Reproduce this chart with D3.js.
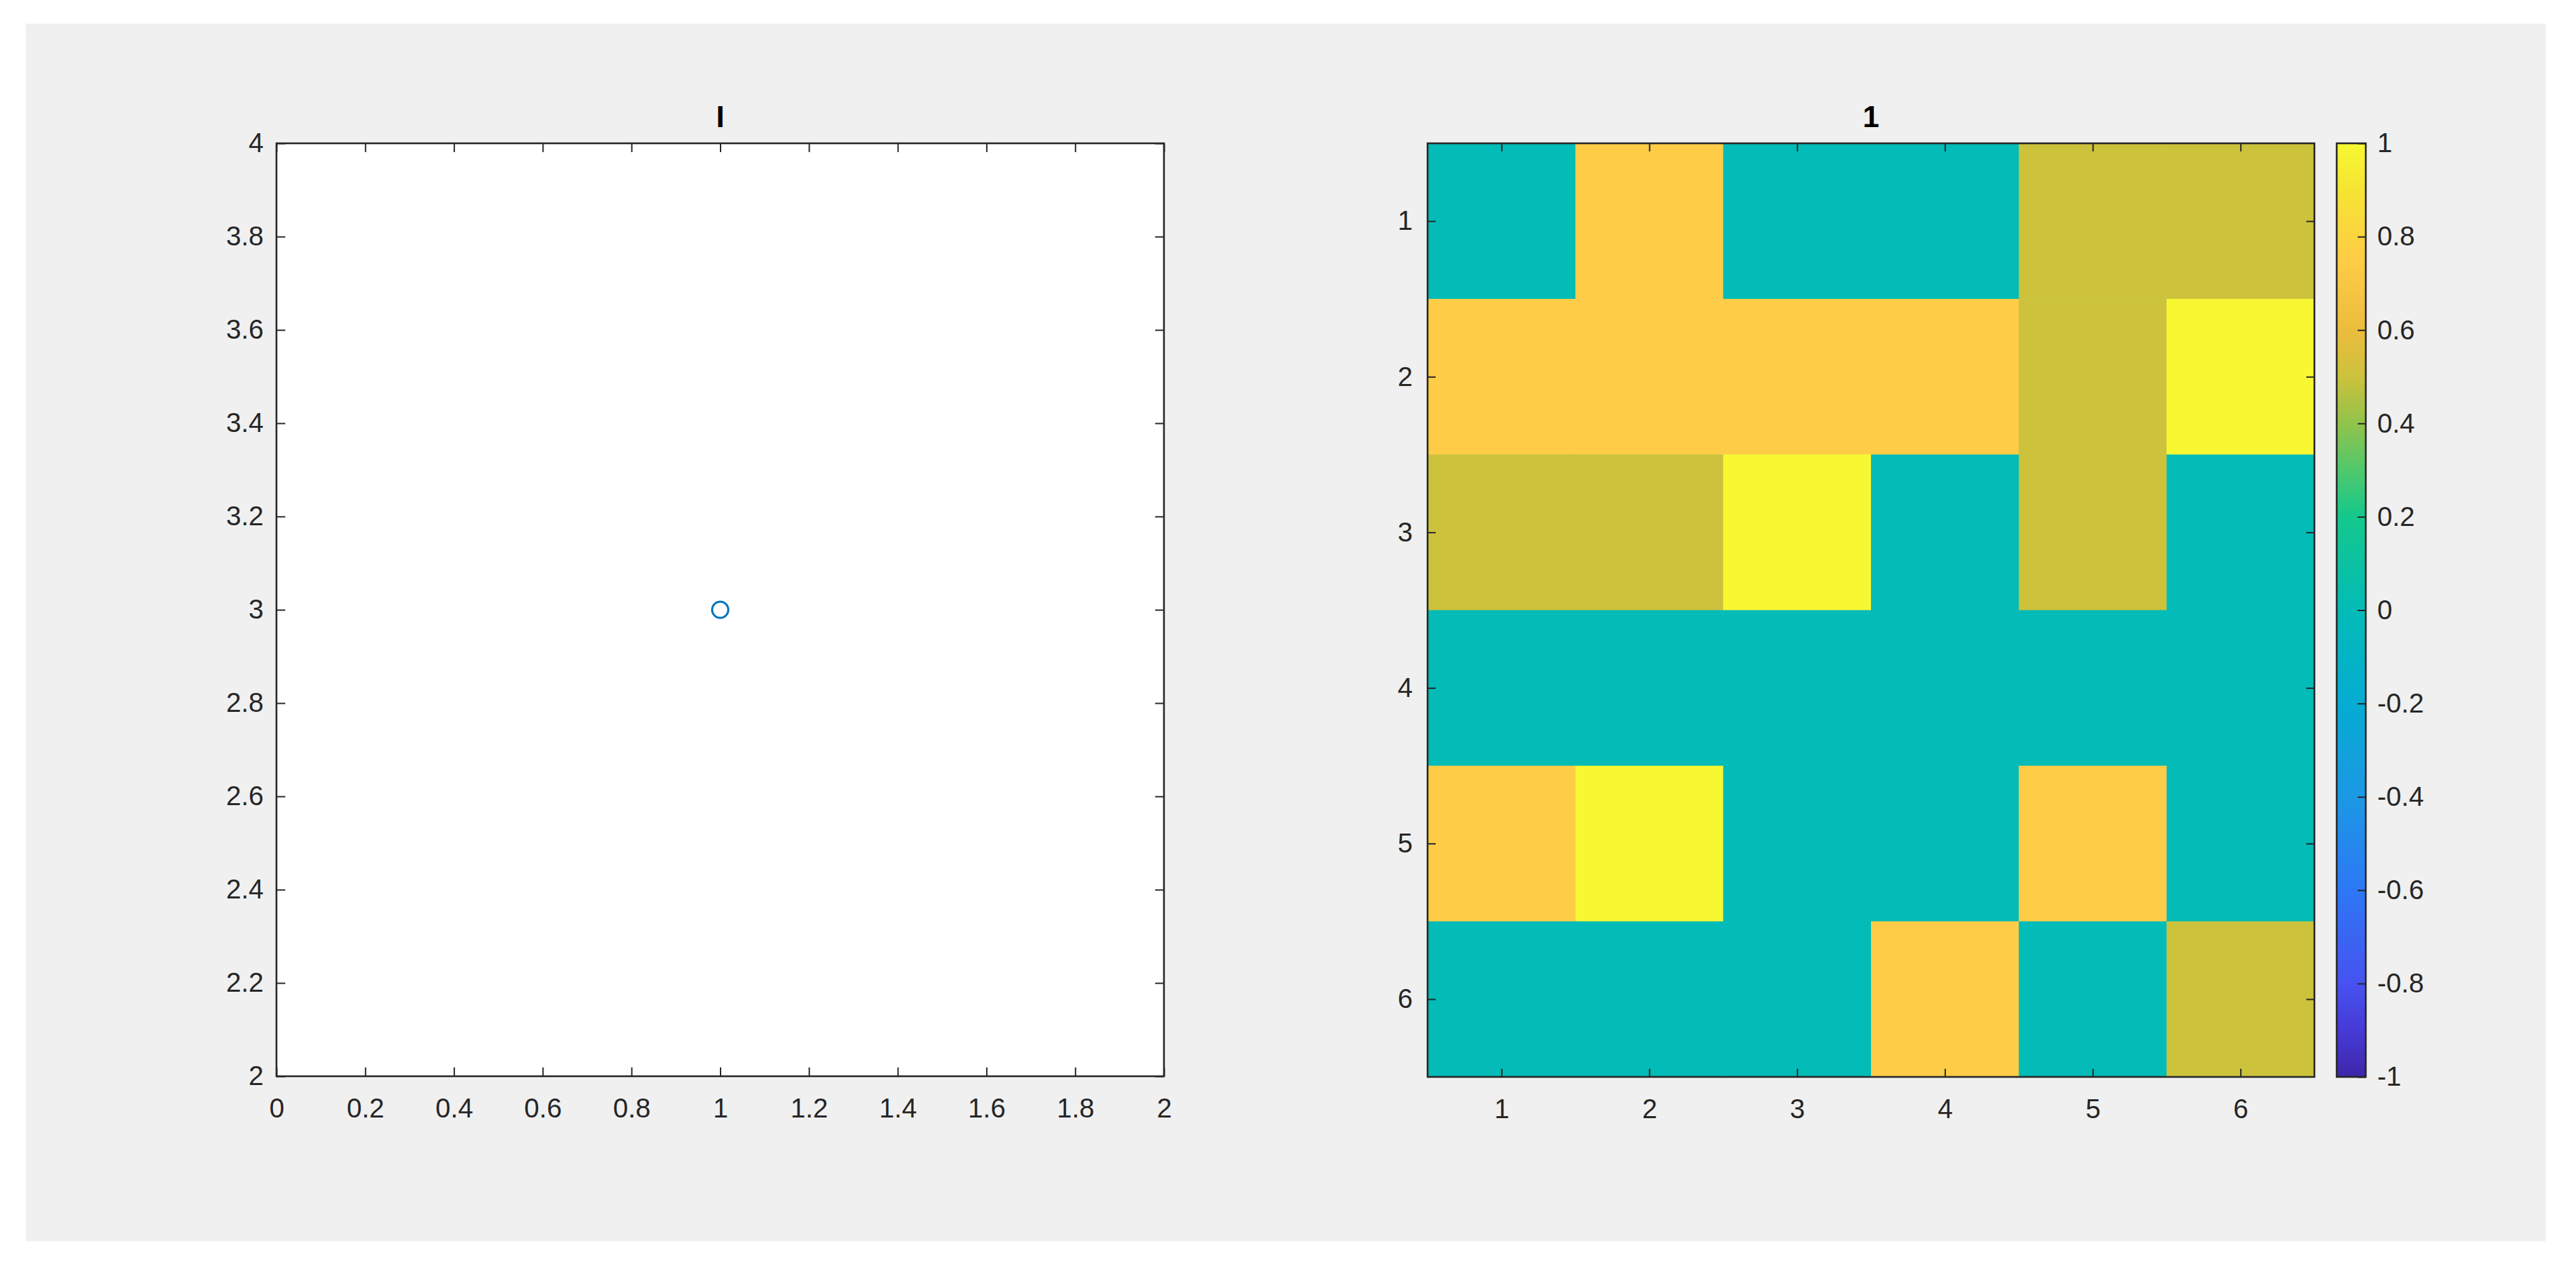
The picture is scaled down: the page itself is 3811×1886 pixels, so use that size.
<!DOCTYPE html>
<html>
<head>
<meta charset="utf-8">
<script src="https://cdn.jsdelivr.net/npm/d3@7"></script>
<style>
html,body{margin:0;padding:0;background:#ffffff;}
svg{display:block;}
text{font-family:"Liberation Sans",Arial,Helvetica,sans-serif;}
</style>
</head>
<body>
<svg id="chart" width="3811" height="1886"></svg>
<script>
// ---------- data ----------
const scatterX = [1];
const scatterY = [3];
const leftTitle = "I";
const rightTitle = "1";
const leftXTicks = [0,0.2,0.4,0.6,0.8,1,1.2,1.4,1.6,1.8,2];
const leftYTicks = [2,2.2,2.4,2.6,2.8,3,3.2,3.4,3.6,3.8,4];
const heatRows = [1,2,3,4,5,6];
const heatCols = [1,2,3,4,5,6];
const heatValues = [
  [0,    0.75, 0,    0,    0.5,  0.5],
  [0.75, 0.75, 0.75, 0.75, 0.5,  1],
  [0.5,  0.5,  1,    0,    0.5,  0],
  [0,    0,    0,    0,    0,    0],
  [0.75, 1,    0,    0,    0.75, 0],
  [0,    0,    0,    0.75, 0,    0.5]
];
const colorbarTicks = [-1,-0.8,-0.6,-0.4,-0.2,0,0.2,0.4,0.6,0.8,1];
// parula-like colormap stops (value -> colour)
const cmapValues = [-1,-0.9,-0.8,-0.6,-0.4,-0.2,0,0.2,0.3,0.4,0.5,0.6,0.75,0.9,1];
const cmapColors = ["rgb(62,38,168)","rgb(70,58,215)","rgb(71,82,240)","rgb(45,120,245)","rgb(28,152,228)","rgb(5,172,210)","rgb(3,187,183)","rgb(20,200,140)","rgb(80,200,108)","rgb(145,195,75)","rgb(204,194,60)","rgb(236,188,62)","rgb(254,204,70)","rgb(245,228,50)","rgb(247,248,50)"];

// ---------- layout ----------
const svg = d3.select("#chart");
const axisColor = "#262626";
const tickFont = 40, titleFont = 44;
svg.append("rect").attr("x",38).attr("y",35).attr("width",3728).attr("height",1801).attr("fill","#f0f0f0");

const L = {x0:409, x1:1722, y0:212, y1:1592};
const R = {x0:2112, x1:3424, y0:212, y1:1593};
const CB = {x0:3457, x1:3500, y0:212, y1:1593};
const fmt = d => (d<0?"-":"") + String(Math.abs(d));

function styleAxis(g){
  g.selectAll(".domain").remove();
  g.selectAll("line").attr("stroke",axisColor).attr("stroke-width",2);
  g.selectAll("text").attr("fill",axisColor).attr("font-size",tickFont);
}

// ---------- left scatter ----------
const xL = d3.scaleLinear().domain([0,2]).range([L.x0,L.x1]);
const yL = d3.scaleLinear().domain([2,4]).range([L.y1,L.y0]);
svg.append("rect").attr("x",L.x0).attr("y",L.y0).attr("width",L.x1-L.x0).attr("height",L.y1-L.y0).attr("fill","#ffffff");
svg.append("g").attr("transform",`translate(0,${L.y1})`)
  .call(d3.axisBottom(xL).tickValues(leftXTicks).tickFormat(fmt).tickSizeInner(-13).tickSizeOuter(0).tickPadding(33)).call(styleAxis);
svg.append("g").attr("transform",`translate(0,${L.y0})`)
  .call(d3.axisTop(xL).tickValues(leftXTicks).tickFormat("").tickSizeInner(-13).tickSizeOuter(0)).call(styleAxis);
svg.append("g").attr("transform",`translate(${L.x0},0)`)
  .call(d3.axisLeft(yL).tickValues(leftYTicks).tickFormat(fmt).tickSizeInner(-13).tickSizeOuter(0).tickPadding(19)).call(styleAxis);
svg.append("g").attr("transform",`translate(${L.x1},0)`)
  .call(d3.axisRight(yL).tickValues(leftYTicks).tickFormat("").tickSizeInner(-13).tickSizeOuter(0)).call(styleAxis);
svg.append("rect").attr("x",L.x0).attr("y",L.y0).attr("width",L.x1-L.x0).attr("height",L.y1-L.y0)
  .attr("fill","none").attr("stroke",axisColor).attr("stroke-width",2.6);
svg.selectAll("circle.pt").data(scatterX.map((x,i)=>({x,y:scatterY[i]}))).enter().append("circle")
  .attr("class","pt").attr("cx",d=>xL(d.x)).attr("cy",d=>yL(d.y)).attr("r",12)
  .attr("fill","none").attr("stroke","rgb(0,114,189)").attr("stroke-width",3);
svg.append("text").attr("x",(L.x0+L.x1)/2).attr("y",188).attr("text-anchor","middle")
  .attr("font-size",titleFont).attr("font-weight","bold").attr("fill","#000").text(leftTitle);

// ---------- right heatmap ----------
const color = d3.scaleLinear().domain(cmapValues).range(cmapColors).clamp(true);
const xR = d3.scaleBand().domain(heatCols).range([R.x0,R.x1]);
const yR = d3.scaleBand().domain(heatRows).range([R.y0,R.y1]);
const cells = [];
heatRows.forEach((r,i)=>heatCols.forEach((c,j)=>cells.push({r,c,v:heatValues[i][j]})));
svg.selectAll("rect.cell").data(cells).enter().append("rect").attr("class","cell")
  .attr("x",d=>xR(d.c)).attr("y",d=>yR(d.r)).attr("width",xR.bandwidth()+0.5).attr("height",yR.bandwidth()+0.5)
  .attr("fill",d=>color(d.v));
const xRp = d3.scalePoint().domain(heatCols).range([R.x0+xR.bandwidth()/2,R.x1-xR.bandwidth()/2]);
const yRp = d3.scalePoint().domain(heatRows).range([R.y0+yR.bandwidth()/2,R.y1-yR.bandwidth()/2]);
svg.append("g").attr("transform",`translate(0,${R.y1})`)
  .call(d3.axisBottom(xRp).tickSizeInner(-12).tickSizeOuter(0).tickPadding(33)).call(styleAxis);
svg.append("g").attr("transform",`translate(0,${R.y0})`)
  .call(d3.axisTop(xRp).tickFormat("").tickSizeInner(-12).tickSizeOuter(0)).call(styleAxis);
svg.append("g").attr("transform",`translate(${R.x0},0)`)
  .call(d3.axisLeft(yRp).tickSizeInner(-12).tickSizeOuter(0).tickPadding(22)).call(styleAxis);
svg.append("g").attr("transform",`translate(${R.x1},0)`)
  .call(d3.axisRight(yRp).tickFormat("").tickSizeInner(-12).tickSizeOuter(0)).call(styleAxis);
svg.append("rect").attr("x",R.x0).attr("y",R.y0).attr("width",R.x1-R.x0).attr("height",R.y1-R.y0)
  .attr("fill","none").attr("stroke",axisColor).attr("stroke-width",2.6);
svg.append("text").attr("x",(R.x0+R.x1)/2).attr("y",188).attr("text-anchor","middle")
  .attr("font-size",titleFont).attr("font-weight","bold").attr("fill","#000").text(rightTitle);

// ---------- colorbar ----------
const yC = d3.scaleLinear().domain([-1,1]).range([CB.y1,CB.y0]);
const defs = svg.append("defs");
const grad = defs.append("linearGradient").attr("id","cbgrad").attr("x1","0").attr("y1","1").attr("x2","0").attr("y2","0");
cmapValues.forEach((v,i)=>grad.append("stop").attr("offset",((v+1)/2*100)+"%").attr("stop-color",cmapColors[i]));
svg.append("rect").attr("x",CB.x0).attr("y",CB.y0).attr("width",CB.x1-CB.x0).attr("height",CB.y1-CB.y0)
  .attr("fill","url(#cbgrad)");
svg.append("g").attr("transform",`translate(${CB.x1},0)`)
  .call(d3.axisRight(yC).tickValues(colorbarTicks).tickFormat(fmt).tickSizeInner(-12).tickSizeOuter(0).tickPadding(17)).call(styleAxis);
svg.append("rect").attr("x",CB.x0).attr("y",CB.y0).attr("width",CB.x1-CB.x0).attr("height",CB.y1-CB.y0)
  .attr("fill","none").attr("stroke",axisColor).attr("stroke-width",2.6);
</script>
</body>
</html>
